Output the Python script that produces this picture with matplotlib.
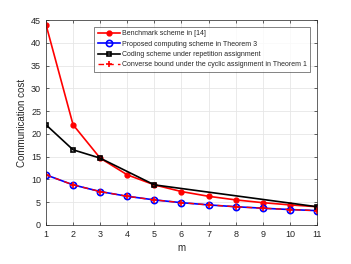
import matplotlib
matplotlib.use('Agg')
import matplotlib.pyplot as plt

m = [1, 2, 3, 4, 5, 6, 7, 8, 9, 10, 11]
benchmark = [44, 22, 14.67, 11, 8.8, 7.33, 6.29, 5.5, 4.89, 4.4, 4]
proposed = [11, 8.8, 7.33, 6.29, 5.5, 4.89, 4.4, 4, 3.67, 3.38, 3.14]
coding_m = [1, 2, 3, 5, 11]
coding = [22, 16.5, 14.67, 8.8, 4]
converse = [11, 8.8, 7.33, 6.29, 5.5, 4.89, 4.4, 4, 3.67, 3.38, 3.14]

plt.rcParams['font.family'] = 'Liberation Sans'
txt = '#262626'

fig = plt.figure(figsize=(3.51, 2.64), dpi=100)
ax = fig.add_axes([0.131, 0.148, 0.772, 0.776])

ax.plot(m, benchmark, color='r', lw=1.2, marker='o', ms=3.5,
        mfc='r', mec='r', label='Benchmark scheme in [14]')
ax.plot(m, proposed, color='b', lw=1.2, marker='o', ms=4.5,
        mfc='none', mec='b', mew=1.2, label='Proposed computing scheme in Theorem 3')
ax.plot(coding_m, coding, color='k', lw=1.2, marker='s', ms=3.5,
        mfc='none', mec='k', mew=1.2, label='Coding scheme under repetition assignment')
ax.plot(m, converse, color='r', lw=1.0, ls=(0, (4, 3)), marker='+', ms=4.5,
        mew=1.2, label='Converse bound under the cyclic assignment in Theorem 1')

ax.set_xlim(1, 11)
ax.set_ylim(0, 45)
ax.set_xticks(range(1, 12))
ax.set_yticks(range(0, 46, 5))
ax.grid(True, color='#e6e6e6', lw=0.6)
ax.set_axisbelow(True)
ax.tick_params(labelsize=6.5, colors=txt, direction='in', length=2.5, width=0.5,
               top=True, right=True)
for s in ax.spines.values():
    s.set_color('#262626')
    s.set_linewidth(0.5)
ax.set_xlabel('m', fontsize=7, color=txt, labelpad=3)
ax.set_ylabel('Communication cost', fontsize=7, color=txt, labelpad=3)

leg = ax.legend(loc='upper right', bbox_to_anchor=(0.975, 0.965), fontsize=5.05,
                frameon=True, fancybox=False, edgecolor='#262626',
                handlelength=3.2, handletextpad=0.3, borderpad=0.45,
                labelspacing=0.48, borderaxespad=0)
leg.get_frame().set_linewidth(0.5)
for t in leg.get_texts():
    t.set_color(txt)

fig.savefig('out.png', dpi=100)
